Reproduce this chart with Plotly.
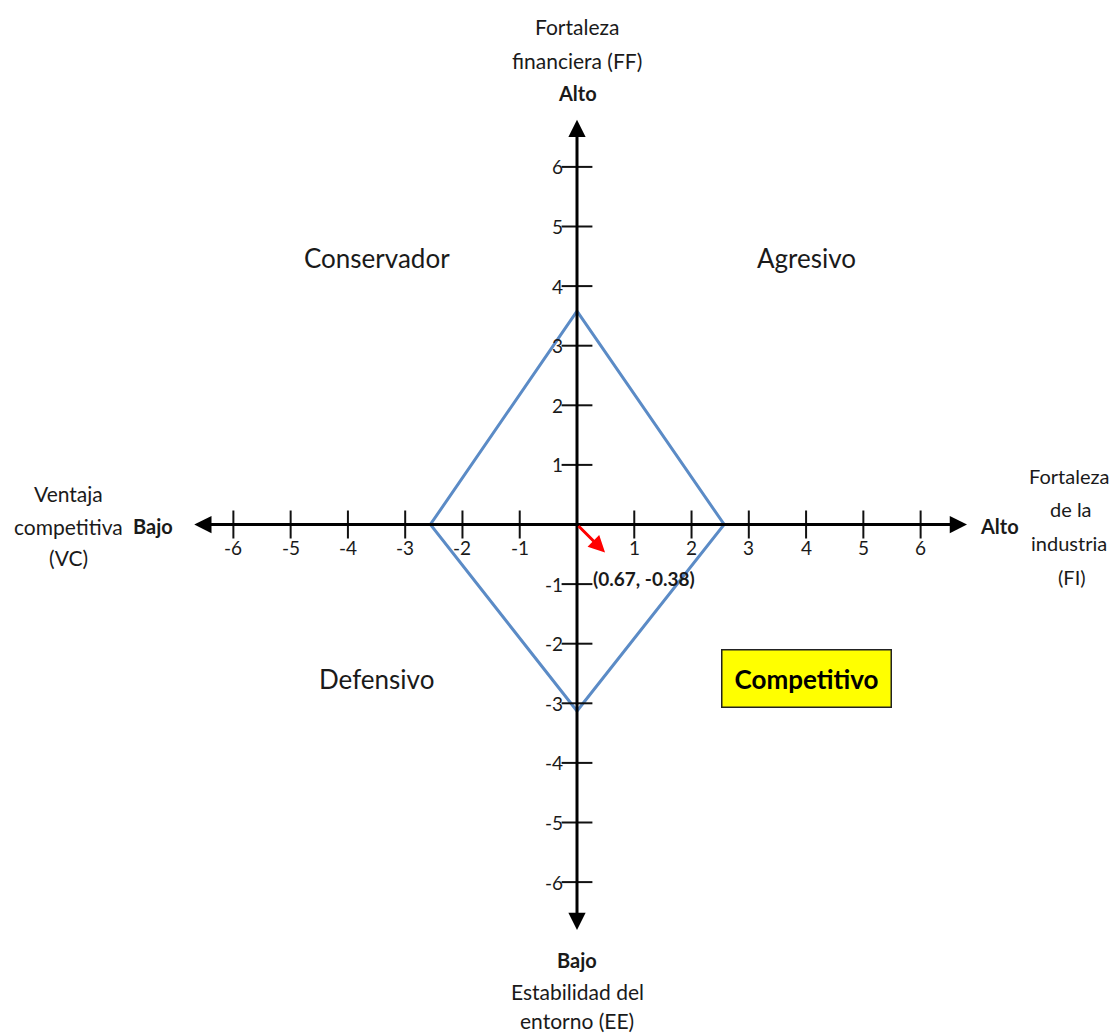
import plotly.graph_objects as go

# ---- data ----
ticks_x = [-6, -5, -4, -3, -2, -1, 1, 2, 3, 4, 5, 6]
ticks_y = [-6, -5, -4, -3, -2, -1, 1, 2, 3, 4, 5, 6]
diamond_axes = ["FF", "FI", "EE", "VC"]
diamond_values = [3.58, 2.57, -3.13, -2.56]
vector_end = [0.49, -0.47]
vector_label = "(0.67, -0.38)"
quadrants = ["Conservador", "Agresivo", "Defensivo", "Competitivo"]
quad_x = [-3.5, 4.0, -3.5, 4.0]
quad_y = [4.47, 4.47, -2.59, -2.59]

WIN_W, WIN_H = 1119, 1035
OFF = 8                       # default page body margin
W, H = WIN_W - OFF, WIN_H - OFF
X0, XS = 577.0 - OFF, 57.27   # figure pixel of x=0, px per unit
Y0, YS = 524.5 - OFF, 59.6    # figure pixel of y=0, px per unit
xr = [(0 - X0) / XS, (W - X0) / XS]
yr = [(Y0 - H) / YS, (Y0 - 0) / YS]

FONT = "Lato"
TXT = "#1a1a1a"

fig = go.Figure()

ff, fi, ee, vc = diamond_values
fig.add_trace(go.Scatter(
    x=[0, fi, 0, vc, 0], y=[ff, 0, ee, 0, ff], mode="lines",
    line=dict(color="#5B8BC6", width=3), hoverinfo="skip", showlegend=False))

# tick marks
fig.add_trace(go.Scatter(
    x=ticks_x, y=[0] * len(ticks_x), mode="markers",
    marker=dict(symbol="line-ns", size=20, line=dict(width=2, color="#111")),
    hoverinfo="skip", showlegend=False))
fig.add_trace(go.Scatter(
    x=[0] * len(ticks_y), y=ticks_y, mode="markers",
    marker=dict(symbol="line-ew", size=22, line=dict(width=2, color="#111")),
    hoverinfo="skip", showlegend=False))

ann = []
# axes with arrows
ann.append(dict(x=6.81, y=0, ax=-6.71, ay=0, xref="x", yref="y", axref="x", ayref="y",
                text="", showarrow=True, arrowhead=2, arrowside="end+start",
                arrowsize=1.15, arrowwidth=3, arrowcolor="#000"))
ann.append(dict(x=0, y=6.79, ax=0, ay=-6.83, xref="x", yref="y", axref="x", ayref="y",
                text="", showarrow=True, arrowhead=2, arrowside="end+start",
                arrowsize=1.15, arrowwidth=3, arrowcolor="#000"))
# red vector
ann.append(dict(x=vector_end[0], y=vector_end[1], ax=0, ay=0, xref="x", yref="y",
                axref="x", ayref="y", text="", showarrow=True, arrowhead=2,
                arrowsize=1.1, arrowwidth=3, arrowcolor="#FF0000"))

# tick labels
for v in ticks_x:
    ann.append(dict(x=v, y=0, xref="x", yref="y", text=str(v), showarrow=False,
                    yshift=-23, font=dict(family=FONT, size=19, color=TXT)))
for v in ticks_y:
    ann.append(dict(x=0, y=v, xref="x", yref="y", text=str(v), showarrow=False,
                    xanchor="right", xshift=-12, font=dict(family=FONT, size=19, color=TXT)))

# vector label
ann.append(dict(x=vector_end[0], y=vector_end[1], xref="x", yref="y", text="<b>" + vector_label + "</b>",
                showarrow=False, xanchor="left", xshift=-14, yshift=-26,
                font=dict(family=FONT, size=19, color=TXT)))

# quadrant labels
for name, qx, qy in zip(quadrants, quad_x, quad_y):
    if name == "Competitivo":
        ann.append(dict(x=qx, y=qy, xref="x", yref="y", text="<b>" + name + "</b>",
                        showarrow=False, bgcolor="#FFFF00", bordercolor="#222",
                        borderwidth=1.5, borderpad=12, width=144,
                        font=dict(family=FONT, size=26, color="#000")))
    else:
        ann.append(dict(x=qx, y=qy, xref="x", yref="y", text=name, showarrow=False,
                        font=dict(family=FONT, size=26, color=TXT)))

# axis titles (placed by page pixel)
def lab(text, px, py, size=21, bold=False):
    t = "<b>" + text + "</b>" if bold else text
    ann.append(dict(x=(px - OFF) / W, y=1 - (py - OFF) / H, xref="paper", yref="paper",
                    xanchor="center", yanchor="middle", text=t, showarrow=False,
                    font=dict(family=FONT, size=size, color=TXT)))

lab("Fortaleza", 577, 26)
lab("financiera (FF)", 577, 60)
lab("Alto", 577, 93, size=20, bold=True)
lab("Bajo", 577, 960, size=20, bold=True)
lab("Estabilidad del", 577, 991)
lab("entorno (EE)", 577, 1020)
lab("Ventaja", 68, 493)
lab("competitiva", 68, 526)
lab("(VC)", 68, 557)
lab("Bajo", 153, 526, size=20, bold=True)
lab("Alto", 999, 526, size=20, bold=True)
lab("Fortaleza", 1069, 476, size=20)
lab("de la", 1071, 509, size=20)
lab("industria", 1069, 543, size=20)
lab("(FI)", 1072, 577, size=20)

fig.update_layout(
    width=W, height=H, margin=dict(l=0, r=0, t=0, b=0),
    paper_bgcolor="white", plot_bgcolor="white",
    xaxis=dict(range=xr, visible=False, fixedrange=True),
    yaxis=dict(range=yr, visible=False, fixedrange=True),
    annotations=ann, showlegend=False,
)
fig.write_html("out.html")
